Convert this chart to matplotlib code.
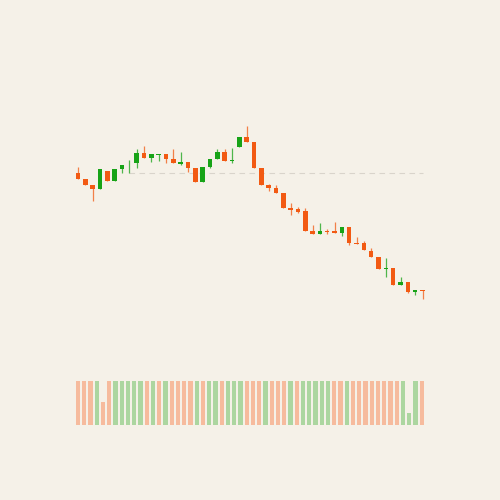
import matplotlib
matplotlib.use("Agg")
import matplotlib.pyplot as plt
import numpy as np

# ── data ─────────────────────────────────────────────────────────────────────
opens = [113.6, 110.5, 107.3, 105.6, 114.6, 109.5, 115.5, 118.3, 118.3, 123.3,
         121.0, 122.6, 123.0, 120.3, 118.2, 119.0, 115.8, 109.2, 116.5, 120.5,
         123.8, 119.5, 126.3, 131.6, 128.8, 115.8, 107.3, 105.8, 103.6, 96.2,
         95.3, 94.5, 84.5, 83.0, 84.3, 84.5, 83.6, 86.7, 78.3, 78.3, 74.6,
         71.6, 65.3, 65.8, 57.5, 58.8, 54.2, 55.0]
closes = [110.5, 107.5, 105.6, 115.6, 109.5, 115.5, 117.7, 118.5, 123.3, 121.1,
          123.0, 123.1, 120.3, 118.5, 119.0, 116.1, 109.2, 116.5, 120.5, 123.8,
          119.6, 119.5, 131.6, 129.0, 115.8, 107.3, 105.8, 103.6, 96.2, 94.8,
          94.1, 84.5, 83.0, 84.5, 84.1, 83.4, 86.7, 78.3, 77.8, 75.0, 71.6,
          65.3, 66.1, 57.5, 59.0, 54.2, 54.9, 54.5]
highs = [116.7, 110.5, 107.3, 115.6, 114.6, 115.5, 117.7, 120.0, 125.3, 127.0,
         123.0, 123.1, 123.0, 125.3, 123.8, 119.0, 115.8, 116.5, 120.5, 125.5,
         125.3, 126.1, 131.6, 137.0, 128.8, 115.8, 108.0, 107.5, 103.6, 98.4,
         96.7, 95.8, 87.5, 88.7, 85.7, 89.0, 86.7, 86.7, 81.3, 79.7, 75.8,
         71.6, 70.8, 65.8, 61.3, 58.8, 54.8, 55.0]
lows = [110.5, 107.5, 99.7, 105.6, 109.5, 109.5, 113.3, 113.7, 116.2, 121.0,
        118.8, 119.3, 118.7, 118.5, 117.3, 114.2, 109.2, 109.2, 115.8, 120.5,
        119.6, 118.3, 126.3, 129.0, 115.8, 107.3, 104.7, 103.6, 96.2, 92.5,
        93.6, 84.5, 83.0, 83.0, 83.0, 83.4, 82.0, 77.5, 77.8, 75.0, 71.6,
        65.3, 61.7, 57.5, 57.5, 53.4, 52.6, 50.7]

ref_level = 113.6
ref_start = 7

vol_up = [0, 0, 0, 1, 0, 0, 1, 1, 1, 1, 1, 0, 1, 0, 1, 0, 0, 0, 0, 1,
          0, 1, 1, 0, 1, 1, 1, 0, 0, 0, 1, 0, 0, 0, 1, 0, 1, 1, 1, 1,
          1, 0, 0, 1, 0, 0, 0, 0, 0, 0, 0, 0, 1, 1, 1, 0]
volumes = [1.0] * 56
volumes[4] = 0.52
volumes[53] = 0.27

# ── style ───────────────────────────────────────────────────────────────────
BG = "#f5f1e8"
UP = "#17a317"
DOWN = "#f25a13"
UP_VOL = "#acd6a0"
DOWN_VOL = "#f6bb9d"

fig = plt.figure(figsize=(5, 5), dpi=100, facecolor=BG)

# price panel
ax = fig.add_axes([0.14, 0.36, 0.72, 0.44])
ax.set_facecolor(BG)
n = len(opens)
x = np.arange(n)
for i in range(n):
    col = UP if closes[i] >= opens[i] else DOWN
    ax.vlines(x[i], lows[i], highs[i], color=col, lw=0.9, alpha=0.75, zorder=2)
    lo = min(opens[i], closes[i])
    h = max(abs(closes[i] - opens[i]), 0.35)
    ax.bar(x[i], h, bottom=lo, width=0.62, color=col, zorder=3)
ax.hlines(ref_level, ref_start, n - 1, colors="#d9d4cb", lw=0.8,
          linestyles=(0, (5, 4)), zorder=1)
ax.set_xlim((70 - 78) / 7.33, (430 - 78) / 7.33)
ax.set_ylim(40, 150)
ax.axis("off")

# volume panel
axv = fig.add_axes([0.14, 0.15, 0.72, 0.088])
axv.set_facecolor(BG)
xv = np.arange(len(volumes))
axv.bar(xv, volumes, width=0.66,
        color=[UP_VOL if u else DOWN_VOL for u in vol_up])
axv.set_xlim((70 - 78) / 6.25, (430 - 78) / 6.25)
axv.set_ylim(0, 1)
axv.axis("off")

plt.savefig("out.png", dpi=100, facecolor=BG)
